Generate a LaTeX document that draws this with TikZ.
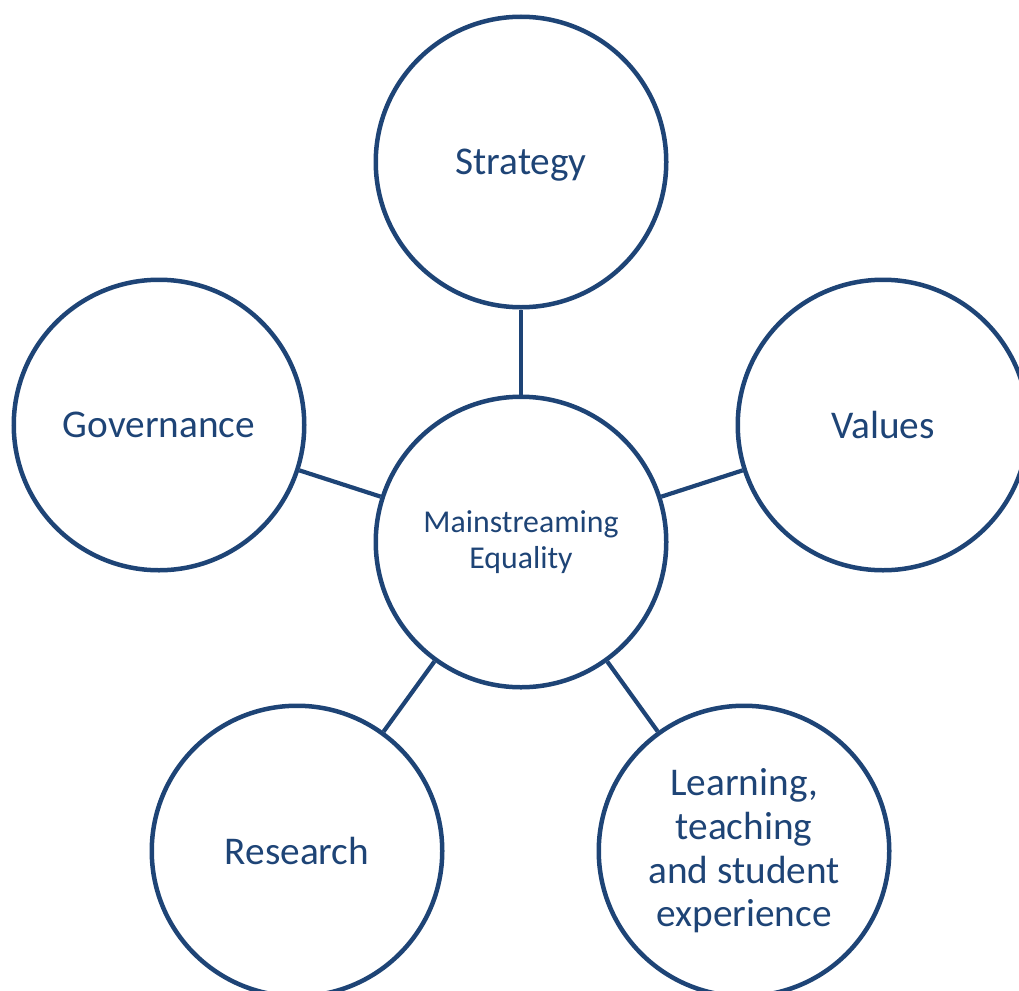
\documentclass[tikz,border=0pt]{standalone}
\usepackage{fontspec}
\setmainfont{Carlito}
\definecolor{navy}{RGB}{30,68,118}
\tikzset{
  bubble/.style={circle, draw=navy, line width=4.5pt, minimum size=290.5pt, inner sep=0pt, text=navy, align=center, font=\fontsize{39.3}{43.6}\selectfont},
  oneline/.style={text depth=0pt},
  hub/.style={bubble, font=\fontsize{31.8}{36.5}\selectfont},
  spoke/.style={draw=navy, line width=4.2pt}
}
\begin{document}
\begin{tikzpicture}[x=1pt,y=-1pt]
\useasboundingbox (0,0) rectangle (1019,990);
\clip (0,0) rectangle (1019,990);
\node[hub] (c) at (521,542) {Mainstreaming\\Equality};
\node[bubble,oneline] (s) at (521,162) {Strategy};
\node[bubble,oneline] (g) at (159,425) {Governance};
\node[bubble,oneline] (v) at (883,425) {Values};
\node[bubble,oneline] (r) at (297,851) {Research};
\node[bubble] (l) at (744,851) {Learning,\\teaching\\and student\\experience};
\draw[spoke] (c) -- (s);
\draw[spoke] (c) -- (g);
\draw[spoke] (c) -- (v);
\draw[spoke] (c) -- (r);
\draw[spoke] (c) -- (l);
\end{tikzpicture}
\end{document}
